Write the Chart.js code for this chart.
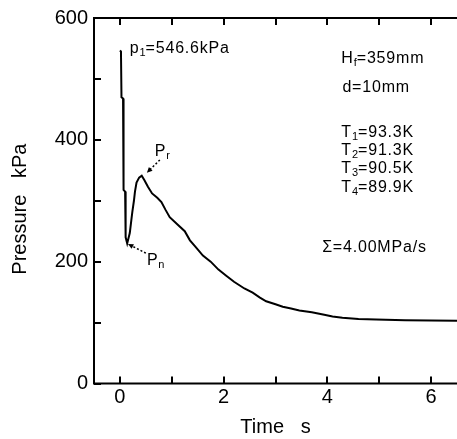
<!DOCTYPE html>
<html><head><meta charset="utf-8">
<script src="https://cdn.jsdelivr.net/npm/chart.js@4/dist/chart.umd.min.js"></script>
<style>html,body{margin:0;padding:0;background:#fff;}</style>
</head><body>
<canvas id="c" width="457" height="439"></canvas>
<script>
// ---- data ----
const timeS = [0, 0.02, 0.03, 0.06, 0.07, 0.10, 0.11, 0.14, 0.19, 0.22, 0.24, 0.27, 0.29, 0.32, 0.37, 0.42, 0.47, 0.54, 0.62, 0.72, 0.80, 0.88, 0.96, 1.10, 1.25, 1.35, 1.45, 1.60, 1.75, 1.90, 2.05, 2.20, 2.40, 2.56, 2.70, 2.82, 3.00, 3.14, 3.30, 3.46, 3.70, 3.94, 4.10, 4.29, 4.60, 4.94, 5.50, 6.00, 6.50];
const pressureKPa = [546.6, 545, 470, 468, 318, 315, 240, 230, 247, 268, 282, 300, 315, 330, 338, 341, 334, 323, 312, 305, 298, 285, 273, 262, 250, 235, 225, 210, 200, 187, 177, 167, 156, 149, 141, 135, 130, 126, 123, 120, 117, 113, 110, 108, 106, 105, 104, 103.5, 103];
const xTickValues = [0, 1, 2, 3, 4, 5, 6];
const xTickLabels = ['0', '2', '4', '6'];
const yTickLabels = ['0', '200', '400', '600'];
const xTitle = 'Time   s';
const yTitle = 'Pressure   kPa   ';

// ---- annotations (text + arrows), anchored in data units ----
const FAM = '"Liberation Sans", Arial, sans-serif';
const notes = [
  {x: 0.19, y: 543, parts: [{t: 'p'}, {t: '1', sub: true}, {t: '=546.6kPa'}]},
  {x: 4.27, y: 526, parts: [{t: 'H'}, {t: 'f', sub: true}, {t: '=359mm'}]},
  {x: 4.29, y: 479, parts: [{t: 'd=10mm'}]},
  {x: 4.27, y: 405, parts: [{t: 'T'}, {t: '1', sub: true}, {t: '=93.3K'}]},
  {x: 4.27, y: 375, parts: [{t: 'T'}, {t: '2', sub: true}, {t: '=91.3K'}]},
  {x: 4.27, y: 346, parts: [{t: 'T'}, {t: '3', sub: true}, {t: '=90.5K'}]},
  {x: 4.27, y: 314, parts: [{t: 'T'}, {t: '4', sub: true}, {t: '=89.9K'}]},
  {x: 3.90, y: 216, parts: [{t: 'Σ=4.00MPa/s'}]},
  {x: 0.67, y: 374, parts: [{t: 'P'}, {t: 'r', sub: true}]},
  {x: 0.52, y: 195, parts: [{t: 'P'}, {t: 'n', sub: true}]}
];
const arrows = [
  {x1: 0.77, y1: 367, x2: 0.52, y2: 346},
  {x1: 0.50, y1: 214, x2: 0.155, y2: 229}
];

const framePlugin = {
  id: 'frame',
  afterDraw(chart) {
    const {ctx, chartArea: a, scales: {x, y}} = chart;
    ctx.save();
    ctx.strokeStyle = '#000';
    ctx.lineWidth = 2;
    ctx.beginPath();
    ctx.moveTo(a.right + 2, a.top); ctx.lineTo(a.left, a.top);
    ctx.lineTo(a.left, a.bottom); ctx.lineTo(a.right + 2, a.bottom);
    x.ticks.forEach(t => {
      const px = Math.round(x.getPixelForValue(t.value));
      ctx.moveTo(px, a.bottom); ctx.lineTo(px, a.bottom - 7);
      ctx.moveTo(px, a.top); ctx.lineTo(px, a.top + 7);
    });
    y.ticks.forEach(t => {
      const py = Math.round(y.getPixelForValue(t.value));
      ctx.moveTo(a.left, py); ctx.lineTo(a.left + 7, py);
    });
    ctx.stroke();

    // annotations
    ctx.fillStyle = '#000';
    ctx.textBaseline = 'alphabetic';
    ctx.textAlign = 'left';
    const size = 16;
    notes.forEach(n => {
      let cx = x.getPixelForValue(n.x);
      const cy = y.getPixelForValue(n.y);
      n.parts.forEach(p => {
        const s = p.sub ? 11 : size;
        ctx.font = s + 'px ' + FAM;
        ctx.letterSpacing = p.sub ? '0px' : '0.8px';
        ctx.fillText(p.t, cx, cy + (p.sub ? 3 : 0));
        cx += ctx.measureText(p.t).width;
      });
    });
    ctx.letterSpacing = '0px';
    arrows.forEach(ar => {
      const x1 = x.getPixelForValue(ar.x1), y1 = y.getPixelForValue(ar.y1);
      const x2 = x.getPixelForValue(ar.x2), y2 = y.getPixelForValue(ar.y2);
      const ang = Math.atan2(y2 - y1, x2 - x1);
      ctx.lineWidth = 1.5;
      ctx.setLineDash([2, 2]);
      ctx.beginPath(); ctx.moveTo(x1, y1); ctx.lineTo(x2 - 4 * Math.cos(ang), y2 - 4 * Math.sin(ang)); ctx.stroke();
      ctx.setLineDash([]);
      ctx.beginPath();
      ctx.moveTo(x2, y2);
      ctx.lineTo(x2 - 6 * Math.cos(ang - 0.45), y2 - 6 * Math.sin(ang - 0.45));
      ctx.lineTo(x2 - 6 * Math.cos(ang + 0.45), y2 - 6 * Math.sin(ang + 0.45));
      ctx.closePath(); ctx.fill();
    });
    ctx.restore();
  }
};

new Chart(document.getElementById('c'), {
  type: 'line',
  data: {
    datasets: [{
      data: timeS.map((t, i) => ({x: t, y: pressureKPa[i]})),
      borderColor: '#000',
      borderWidth: 2,
      pointRadius: 0,
      tension: 0,
      fill: false
    }]
  },
  options: {
    responsive: false,
    animation: false,
    devicePixelRatio: 1,
    layout: {padding: {top: 18, left: 8, right: 0, bottom: 0}},
    plugins: {legend: {display: false}, tooltip: {enabled: false}},
    scales: {
      x: {
        type: 'linear', min: -0.5, max: 6.5, position: 'bottom',
        grid: {display: false, drawTicks: false},
        border: {display: false},
        afterBuildTicks(s) { s.ticks = xTickValues.map(v => ({value: v})); },
        ticks: {
          autoSkip: false, maxRotation: 0, padding: 2, color: '#000',
          font: {size: 20, family: FAM},
          callback: v => xTickLabels.includes(String(v)) ? String(v) : ''
        },
        title: {display: true, text: xTitle, color: '#000', font: {size: 20, family: FAM}, padding: 0},
        afterFit(s) { s.height = 55.5; }
      },
      y: {
        type: 'linear', min: 0, max: 600,
        grid: {display: false, drawTicks: false},
        border: {display: false},
        ticks: {
          stepSize: 100, autoSkip: false, padding: 6, color: '#000',
          font: {size: 20, family: FAM},
          callback: v => yTickLabels.includes(String(v)) ? String(v) : ''
        },
        title: {display: true, text: yTitle, color: '#000', font: {size: 20, family: FAM}, padding: 0},
        afterFit(s) { s.width = 86; }
      }
    }
  },
  plugins: [framePlugin]
});
</script>
</body></html>
